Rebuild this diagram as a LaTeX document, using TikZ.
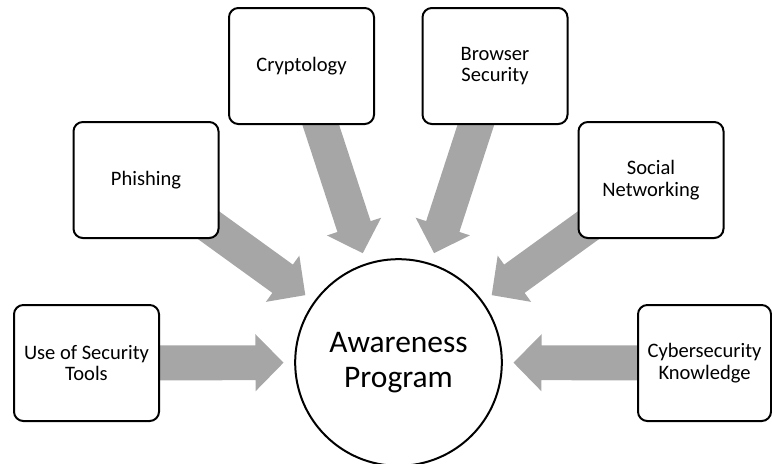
\documentclass[tikz,border=0pt]{standalone}
\usepackage{fontspec}
\setmainfont{Carlito}
\usetikzlibrary{calc}

\definecolor{arrowgray}{HTML}{A6A6A6}

\begin{document}
\begin{tikzpicture}[x=0.75pt, y=-0.75pt,
    topic/.style={draw, line width=1.5pt, rounded corners=7pt, fill=white,
      minimum width=108.75pt, minimum height=87pt, align=center,
      font=\fontsize{15.4}{16}\selectfont},
    hub/.style={circle, draw, line width=1.5pt, fill=white, minimum size=155pt,
      align=center, font=\fontsize{23.6}{26.5}\selectfont},
    fatarrow/.style={fill=arrowgray}]
    \clip (0,0) rectangle (772,464);
    % nodes
    \node[hub] (aware) at (398.5,362.5) {Awareness\\Program};
    \coordinate (use) at (86.5,363);
    \coordinate (phish) at (146,180);
    \coordinate (crypto) at (301.5,66);
    \coordinate (browser) at (495,66);
    \coordinate (social) at (651,180);
    \coordinate (cyber) at (704.5,363);
    % fat arrows towards the circle
    \foreach \src in {use,phish,crypto,browser,social,cyber}
      \fill[fatarrow] let \p1=($(\src)-(aware)$), \n1={atan2(\y1,\x1)} in
        ($(aware)+(\n1:86.25pt)$)
        -- ($(aware)+(\n1:107.25pt)+(\n1+90:21.4pt)$)
        -- ($(aware)+(\n1:107.25pt)+(\n1+90:13.1pt)$)
        -- ($(\src)+(\n1+90:13.1pt)$)
        -- ($(\src)+(\n1-90:13.1pt)$)
        -- ($(aware)+(\n1:107.25pt)+(\n1-90:13.1pt)$)
        -- ($(aware)+(\n1:107.25pt)+(\n1-90:21.4pt)$)
        -- cycle;
    % boxes
    \node[topic] at (use) {Use of Security\\Tools};
    \node[topic] at (phish) {Phishing};
    \node[topic] at (crypto) {Cryptology};
    \node[topic] at (browser) {Browser\\Security};
    \node[topic] at (social) {Social\\Networking};
    \node[topic, minimum width=99.75pt] at (cyber) {Cybersecurity\\Knowledge};
\end{tikzpicture}
\end{document}
